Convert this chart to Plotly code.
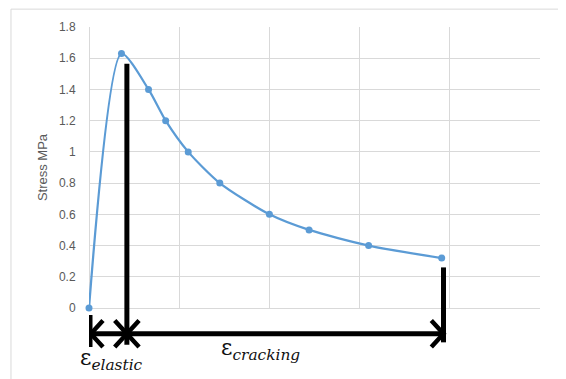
import plotly.graph_objects as go

# ---- data ----
strain = [0, 0.36, 0.66, 0.85, 1.10, 1.45, 2.00, 2.44, 3.10, 3.91]
stress = [0, 1.63, 1.40, 1.20, 1.00, 0.80, 0.60, 0.50, 0.40, 0.32]
y_tick_vals = [0, 0.2, 0.4, 0.6, 0.8, 1.0, 1.2, 1.4, 1.6, 1.8]
y_tick_text = ["0", "0.2", "0.4", "0.6", "0.8", "1", "1.2", "1.4", "1.6", "1.8"]
y_title = "Stress MPa"
label_elastic = "ε<sub><i>elastic</i></sub>"
label_cracking = "ε<sub><i>cracking</i></sub>"

Y_MAX = 1.8
X_MAX = 5


def py(v):
    """stress units -> paper fraction (y axis spans 0..Y_MAX)"""
    return v / Y_MAX


BLUE = "#5B9BD5"
GRID = "#d9d9d9"

fig = go.Figure(
    go.Scatter(
        x=strain,
        y=stress,
        mode="lines+markers",
        line=dict(shape="spline", smoothing=0.7, color=BLUE, width=2.25),
        marker=dict(size=7, color=BLUE),
        cliponaxis=False,
        showlegend=False,
    )
)

# ---- strain range annotation geometry ----
x_start = strain[0]
x_peak = 0.42
x_end = 3.93
arrow_y = -0.165
dx, dy = 0.135, 0.085

shapes = []
blk = dict(color="black", width=5)
# vertical markers
shapes.append(dict(type="line", xref="x", yref="paper", x0=x_start, x1=x_start,
                   y0=py(-0.045), y1=py(-0.25), line=dict(color="black", width=7)))
shapes.append(dict(type="line", xref="x", yref="paper", x0=x_peak, x1=x_peak,
                   y0=py(1.565), y1=py(-0.235), line=blk))
shapes.append(dict(type="line", xref="x", yref="paper", x0=x_end, x1=x_end,
                   y0=py(0.26), y1=py(-0.22), line=blk))
# horizontal arrow line
shapes.append(dict(type="line", xref="x", yref="paper", x0=x_start, x1=x_end,
                   y0=py(arrow_y), y1=py(arrow_y), line=blk))


def chevron(xt, direction):
    xa = xt - direction * dx
    return dict(type="path", xref="x", yref="paper",
                path=f"M{xa},{py(arrow_y + dy)} L{xt},{py(arrow_y)} L{xa},{py(arrow_y - dy)}",
                line=dict(color="black", width=4.5))


shapes.append(chevron(x_start + 0.02, -1))
shapes.append(chevron(x_peak, 1))
shapes.append(chevron(x_peak, -1))
shapes.append(chevron(x_end, 1))

# chart-area border
shapes.append(dict(type="rect", xref="paper", yref="paper",
                   x0=-0.173, x1=1.1, y0=-0.3, y1=1.0636,
                   line=dict(color=GRID, width=1), layer="below"))

annotations = [
    dict(xref="x", yref="paper", x=0.25, y=py(-0.435), text=label_elastic,
         showarrow=False, font=dict(family="DejaVu Serif", size=22, color="#111111")),
    dict(xref="x", yref="paper", x=1.9, y=py(-0.37), text=label_cracking,
         showarrow=False, font=dict(family="DejaVu Serif", size=22, color="#111111")),
]

# the page body adds an 8px margin, so the figure is offset by 8px
fig.update_layout(
    width=558,
    height=371,
    margin=dict(l=81, r=26, t=17, b=71),
    paper_bgcolor="white",
    plot_bgcolor="white",
    font=dict(family="Liberation Sans", size=12, color="#595959"),
    shapes=shapes,
    annotations=annotations,
    xaxis=dict(range=[0, X_MAX], dtick=1, showticklabels=False, showgrid=True,
               gridcolor=GRID, gridwidth=1, zeroline=True, zerolinecolor=GRID,
               zerolinewidth=1, showline=False, ticks=""),
    yaxis=dict(range=[0, Y_MAX], tickvals=y_tick_vals, ticktext=y_tick_text,
               showgrid=True, gridcolor=GRID, gridwidth=1, zeroline=True,
               zerolinecolor=GRID, zerolinewidth=1, showline=False,
               ticks="outside", ticklen=10, tickcolor="rgba(0,0,0,0)",
               tickfont=dict(size=12, color="#595959"),
               title=dict(text=y_title, font=dict(size=13, color="#595959"), standoff=8)),
)

fig.write_html("out.html")
